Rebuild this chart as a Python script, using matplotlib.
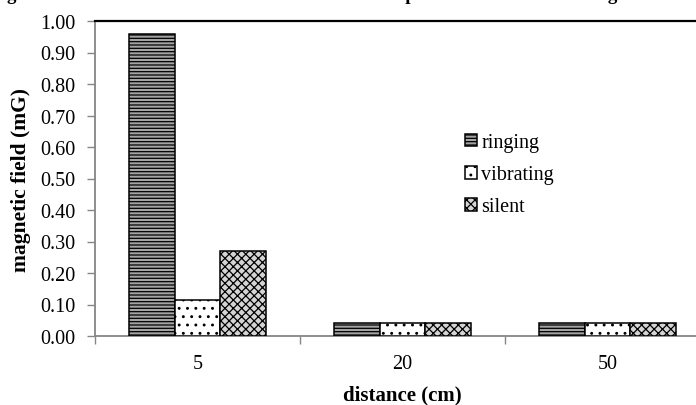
import numpy as np
import matplotlib
matplotlib.use('Agg')
import matplotlib.pyplot as plt

plt.rcParams['font.family'] = ['Liberation Serif', 'DejaVu Serif']
plt.rcParams['hatch.linewidth'] = 0.9

# data
distances = ['5', '20', '50']
modes = ['ringing', 'vibrating', 'silent']
ringing = [0.96, 0.04, 0.04]
vibrating = [0.115, 0.04, 0.04]
silent = [0.27, 0.04, 0.04]
yticks = [0.0, 0.1, 0.2, 0.3, 0.4, 0.5, 0.6, 0.7, 0.8, 0.9, 1.0]

series = [ringing, vibrating, silent]
faces = ['#a4a4a4', 'white', '#d4d4d4']
hatches = ['-----', '..', 'xxxx']

fig = plt.figure(figsize=(6.96, 4.06), dpi=100)
ax = fig.add_axes([95/696, 69/406, 615/696, 315/406])

x = np.arange(len(distances))
w = 0.222
for i, (vals, fc, h, lab) in enumerate(zip(series, faces, hatches, modes)):
    ax.bar(x + (i - 1) * w, vals, w, facecolor=fc, edgecolor='black',
           hatch=h, linewidth=1.1, label=lab, zorder=3)

ax.set_xlim(-0.5, 2.5)
ax.set_ylim(0, 1.0)
ax.set_yticks(yticks)
ax.set_yticklabels(['%.2f' % v for v in yticks])
ax.set_xticks(x)
ax.set_xticklabels(distances)
ax.set_xticks([-0.5, 0.5, 1.5, 2.5], minor=True)

ax.tick_params(axis='y', which='major', length=6, width=1, color='#868686',
               labelsize=14.5, pad=8)
ax.tick_params(axis='x', which='major', length=0, labelsize=14.5, pad=13)
ax.tick_params(axis='x', which='minor', length=6, width=1, color='#868686')

for s in ['left', 'bottom']:
    ax.spines[s].set_color('#868686')
    ax.spines[s].set_linewidth(1.3)
ax.spines['top'].set_color('black')
ax.spines['top'].set_linewidth(1.6)
ax.spines['right'].set_visible(False)

ax.set_ylabel('magnetic field (mG)', fontsize=15.5, fontweight='bold')
ax.yaxis.set_label_coords(-64/615, 0.5)
ax.set_xlabel('distance (cm)', fontsize=15, fontweight='bold', labelpad=8)

ax.legend(loc='upper left', bbox_to_anchor=(360/615, 0.676), frameon=False,
          fontsize=14.5, handlelength=0.6, handleheight=0.6,
          handletextpad=0.2, labelspacing=0.65, borderpad=0)

# chart title, almost entirely cut off at the top edge of the image
fig.text(-20/696, 1 - 0.5/406,
         'Magnetic field at different distances from the mobile phone in the different ringer modes',
         ha='left', va='baseline', fontsize=13.5, fontweight='bold')

fig.savefig('out.png', dpi=100)
